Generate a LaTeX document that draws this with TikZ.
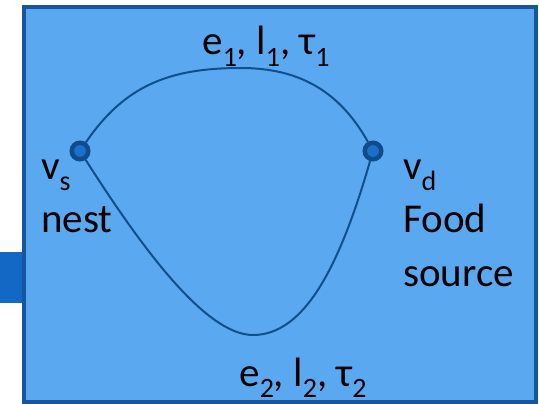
\documentclass[tikz,border=0pt]{standalone}
\usepackage{fontspec}
\setmainfont{Carlito}
\definecolor{bgblue}{RGB}{90,169,240}
\definecolor{frameblue}{RGB}{22,86,158}
\definecolor{tabblue}{RGB}{18,104,196}
\definecolor{edgeblue}{RGB}{16,78,140}
\definecolor{dotfill}{RGB}{28,112,202}
\definecolor{dotline}{RGB}{14,76,140}
\newcommand{\sbs}[1]{\raisebox{-0.27em}{\fontsize{28}{28}\selectfont #1}}
\tikzset{
  vertex/.style={circle,fill=dotfill,draw=dotline,line width=4.5pt,minimum size=16.5pt,inner sep=0pt},
  edgeline/.style={draw=edgeblue,line width=2pt},
  lbl/.style={inner sep=0pt,font=\fontsize{41}{41}\selectfont,text=black}
}
\begin{document}
\begin{tikzpicture}[x=1pt,y=-1pt]
\useasboundingbox (0,0) rectangle (539,404);
\fill[tabblue] (0,252) rectangle (24,303);
\draw[fill=bgblue,draw=frameblue,line width=3.6pt] (23.8,6.8) rectangle (536.2,402.2);
\node[vertex] (vs) at (80,151) {};
\node[vertex] (vd) at (373,151) {};
\coordinate (top) at (241,68);
\coordinate (bot) at (253,335);
\draw[edgeline] (vs) .. controls (125,85) and (170,68) .. (top)
  .. controls (300,68) and (340,92) .. (vd);
\draw[edgeline] (vs) .. controls (140,245) and (205,335) .. (bot)
  .. controls (305,335) and (340,265) .. (vd);
\node[lbl,anchor=base west] (vslbl) at (41,179) {v\sbs{s}};
\node[lbl,anchor=base west] (nest) at (41,233) {nest};
\node[lbl,anchor=base west] (vdlbl) at (403,179) {v\sbs{d}};
\node[lbl,anchor=base west] (food) at (403,233) {Food};
\node[lbl,anchor=base west] (source) at (403,286) {source};
\node[lbl,anchor=base] (e1) at (266,55) {e\sbs{1}, l\sbs{1}, τ\sbs{1}};
\node[lbl,anchor=base] (e2) at (303,386) {e\sbs{2}, l\sbs{2}, τ\sbs{2}};
\end{tikzpicture}
\end{document}
